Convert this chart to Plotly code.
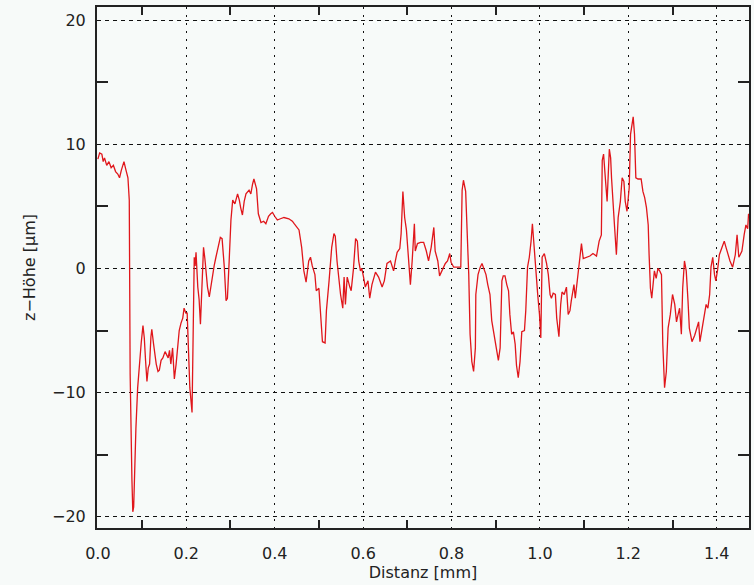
import plotly.graph_objects as go

x_mm = [0.0, 0.004, 0.009, 0.012, 0.015, 0.02, 0.025, 0.03, 0.035, 0.04, 0.045, 0.049, 0.053, 0.059, 0.063, 0.068,
        0.071, 0.073, 0.077, 0.079, 0.081, 0.083, 0.086, 0.090, 0.095, 0.098, 0.102, 0.105, 0.108, 0.111, 0.114,
        0.117, 0.120, 0.122, 0.126, 0.132, 0.136, 0.139, 0.143, 0.147, 0.152, 0.156, 0.159, 0.162, 0.165, 0.169,
        0.173, 0.177, 0.180, 0.184, 0.188, 0.192, 0.195, 0.199, 0.202, 0.205, 0.208, 0.213, 0.215, 0.218, 0.220,
        0.222, 0.226, 0.229, 0.232, 0.235, 0.239, 0.242, 0.244, 0.248, 0.252, 0.255, 0.259, 0.263, 0.267, 0.271,
        0.274, 0.277, 0.281, 0.286, 0.290, 0.293, 0.297, 0.301, 0.305, 0.310, 0.316, 0.320, 0.323, 0.327, 0.331,
        0.335, 0.342, 0.346, 0.350, 0.353, 0.359, 0.363, 0.369, 0.375, 0.380, 0.386, 0.391, 0.395, 0.400, 0.406,
        0.413, 0.421, 0.432, 0.440, 0.444, 0.450, 0.455, 0.461, 0.466, 0.471, 0.477, 0.481, 0.485, 0.491, 0.494,
        0.500, 0.504, 0.508, 0.514, 0.517, 0.523, 0.529, 0.534, 0.537, 0.541, 0.549, 0.554, 0.557, 0.560, 0.564,
        0.570, 0.573, 0.578, 0.583, 0.587, 0.590, 0.594, 0.597, 0.601, 0.605, 0.611, 0.615, 0.620, 0.628, 0.635,
        0.643, 0.648, 0.654, 0.662, 0.669, 0.673, 0.677, 0.683, 0.686, 0.690, 0.694, 0.698, 0.703, 0.707, 0.711,
        0.716, 0.718, 0.723, 0.730, 0.737, 0.743, 0.748, 0.754, 0.760, 0.763, 0.769, 0.773, 0.778, 0.786, 0.791,
        0.796, 0.799, 0.805, 0.816, 0.821, 0.824, 0.827, 0.832, 0.836, 0.839, 0.842, 0.846, 0.850, 0.854, 0.855,
        0.860, 0.865, 0.869, 0.872, 0.878, 0.882, 0.887, 0.891, 0.895, 0.899, 0.902, 0.906, 0.910, 0.914, 0.917,
        0.921, 0.925, 0.929, 0.932, 0.936, 0.940, 0.944, 0.947, 0.951, 0.955, 0.959, 0.965, 0.968, 0.972, 0.976,
        0.980, 0.983, 0.987, 0.991, 0.995, 0.999, 1.002, 1.005, 1.010, 1.015, 1.019, 1.023, 1.026, 1.030, 1.035,
        1.038, 1.043, 1.047, 1.050, 1.055, 1.060, 1.064, 1.068, 1.071, 1.077, 1.080, 1.083, 1.087, 1.090, 1.094,
        1.098, 1.105, 1.113, 1.120, 1.128, 1.134, 1.139, 1.141, 1.144, 1.149, 1.152, 1.157, 1.160, 1.162, 1.166,
        1.169, 1.173, 1.177, 1.182, 1.186, 1.190, 1.193, 1.197, 1.202, 1.205, 1.208, 1.211, 1.214, 1.217, 1.222,
        1.229, 1.233, 1.237, 1.241, 1.245, 1.247, 1.250, 1.253, 1.256, 1.259, 1.263, 1.267, 1.271, 1.275, 1.278,
        1.282, 1.286, 1.290, 1.295, 1.300, 1.305, 1.309, 1.312, 1.316, 1.320, 1.323, 1.327, 1.331, 1.335, 1.338,
        1.344, 1.350, 1.355, 1.359, 1.362, 1.367, 1.372, 1.376, 1.380, 1.384, 1.387, 1.391, 1.395, 1.398, 1.402,
        1.406, 1.412, 1.417, 1.421, 1.425, 1.430, 1.436, 1.442, 1.446, 1.450, 1.453, 1.457, 1.462, 1.466, 1.470,
        1.472]

z_um = [8.8, 9.3, 9.2, 8.6, 8.9, 8.3, 8.6, 8.1, 8.3, 7.8, 7.6, 7.3, 7.9, 8.6, 8.0, 7.3,
        5.5, -8.5, -17.0, -19.6, -19.2, -16.5, -12.9, -9.6, -7.0, -6.0, -4.6, -5.6, -7.5, -9.1, -8.0,
        -7.7, -5.5, -4.9, -6.1, -7.7, -8.3, -8.2, -7.4, -7.2, -6.7, -7.0, -7.2, -6.6, -7.7, -6.4,
        -8.9, -7.7, -6.5, -5.0, -4.4, -4.0, -3.2, -3.6, -3.6, -6.1, -9.6, -11.6, -7.7, 0.9, 0.2,
        1.3, -1.5, -2.5, -4.5, -2.3, 1.7, 0.8, -0.2, -1.5, -2.3, -1.5, -0.7, 0.2, 0.9, 1.6,
        2.0, 2.5, 2.4, 0.1, -2.6, -2.4, 0.6, 3.9, 5.5, 5.2, 6.0, 5.5, 4.9, 4.3, 5.4,
        6.0, 6.3, 6.0, 6.8, 7.2, 6.4, 4.4, 3.7, 3.8, 3.6, 4.2, 4.4, 4.5, 4.2, 3.9,
        4.0, 4.1, 4.0, 3.8, 3.6, 3.3, 3.1, 1.7, -0.2, -1.1, 0.6, 0.9, 0.2, -0.5, -1.8,
        -1.6, -3.4, -5.9, -6.0, -3.4, -1.0, 1.7, 2.8, 2.6, 0.6, -2.1, -3.2, -0.7, -2.9, -0.7,
        -1.5, -1.8, -0.1, 2.4, 2.2, 0.6, -0.2, 0.0, -0.7, -1.5, -1.0, -2.4, -1.3, -0.3, -0.7,
        -1.5, -1.0, 0.4, 0.6, -0.2, 0.6, 1.3, 1.6, 2.8, 6.2, 4.1, 3.1, 0.1, -1.3, 0.6,
        3.6, 1.4, 2.0, 2.1, 2.1, 1.4, 0.6, 1.7, 3.3, 1.4, 0.6, -0.6, -0.2, 0.4, 0.6,
        1.2, 0.5, 0.1, 0.1, 0.1, 6.3, 7.1, 6.2, 3.0, -0.5, -5.3, -7.5, -8.3, -6.4, -2.1,
        -0.5, 0.1, 0.4, 0.1, -0.5, -1.3, -2.1, -4.2, -5.1, -5.9, -6.4, -7.4, -6.4, -1.0, -0.6,
        -0.6, -1.3, -1.8, -3.7, -5.3, -5.1, -6.1, -7.8, -8.8, -7.5, -5.1, -5.0, -3.4, 0.1, 0.9,
        2.2, 3.6, 1.7, -0.5, -2.1, -3.7, -5.6, 0.9, 1.2, 0.4, -0.5, -2.1, -2.4, -2.0, -2.1,
        -4.0, -5.5, -2.9, -1.9, -2.1, -1.5, -3.7, -3.4, -2.6, -1.3, -2.4, -1.5, -0.5, 0.6, 2.0,
        0.8, 0.9, 1.0, 1.2, 1.0, 2.2, 2.7, 8.7, 9.2, 6.8, 5.4, 9.6, 8.9, 7.3, 5.4,
        3.3, 1.1, 4.1, 5.4, 7.3, 7.0, 5.4, 4.6, 6.5, 10.8, 11.6, 12.2, 10.8, 7.3, 7.2,
        7.2, 6.2, 5.7, 4.9, 3.5, 1.1, -1.6, -2.4, -1.0, -0.2, -0.8, 0.0, -0.2, -0.5, -6.1,
        -9.6, -8.3, -4.8, -3.7, -2.1, -2.9, -4.3, -3.8, -3.2, -5.3, -1.6, 0.6, -0.2, -2.6, -4.8,
        -5.9, -5.4, -4.8, -4.3, -5.9, -4.8, -3.7, -2.9, -3.2, -2.1, 0.1, 0.9, -0.5, -1.0, -0.1,
        1.1, 1.7, 2.2, 1.7, 1.1, 0.6, 0.1, 1.1, 2.7, 0.9, 1.1, 1.4, 2.7, 3.5, 3.2,
        4.4]

y_tickvals = [-20, -10, 0, 10, 20]
x_tickvals = [0.0, 0.2, 0.4, 0.6, 0.8, 1.0, 1.2, 1.4]
x_ticktext = ["0.0", "0.2", "0.4", "0.6", "0.8", "1.0", "1.2", "1.4"]

bg = "#f7faf9"
ink = "#222222"
font = "DejaVu Sans"

fig = go.Figure()
fig.add_trace(go.Scatter(x=x_mm, y=z_um, mode="lines",
                         line=dict(color="#e0161b", width=1.3), showlegend=False))

fig.update_layout(
    width=754, height=585,
    paper_bgcolor=bg, plot_bgcolor=bg,
    margin=dict(l=97, r=3, t=7, b=57),
    font=dict(family=font, size=16, color=ink),
    xaxis=dict(
        range=[-0.002, 1.473], tickvals=x_tickvals, ticktext=x_ticktext,
        ticks="", ticklabelstandoff=10,
        showline=True, linecolor=ink, linewidth=2, mirror="ticks",
        showgrid=True, gridcolor="#111111", gridwidth=1.3, griddash="2px,6px",
        zeroline=False,
        minor=dict(tick0=0.1, dtick=0.2, ticks="inside", ticklen=8, tickwidth=1.5,
                   tickcolor=ink, showgrid=False),
        title=dict(text="Distanz [mm]", font=dict(size=16), standoff=4),
    ),
    yaxis=dict(
        range=[-20.9, 21.05], tickvals=y_tickvals,
        ticks="", ticklabelstandoff=6,
        showline=True, linecolor=ink, linewidth=2, mirror="ticks",
        showgrid=True, gridcolor="#111111", gridwidth=1.3, griddash="4px,4px",
        zeroline=False,
        minor=dict(tick0=5, dtick=10, ticks="inside", ticklen=11, tickwidth=1.5,
                   tickcolor=ink, showgrid=False),
        title=dict(text="z−Höhe [μm]", font=dict(size=16), standoff=12),
    ),
)

fig.write_html("out.html")
